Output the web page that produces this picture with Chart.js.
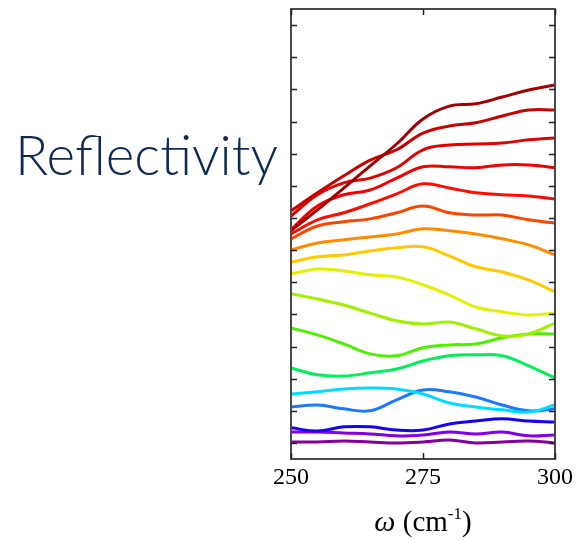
<!DOCTYPE html>
<html lang="en">
  <head>
    <meta charset="UTF-8" />
    <title>Reflectivity</title>
    <script src="https://cdn.jsdelivr.net/npm/chart.js"></script>
    <style>
      body { margin: 0; background: #ffffff; }
    </style>
  </head>
  <body>
    <canvas id="reflectivityChart" width="576" height="540"></canvas>

    <script>
      // wavenumber samples (cm^-1)
      const wavenumbers = [250, 255, 260, 265, 270, 275, 280, 285, 290, 295, 300];
      const xTickLabels = [250, 275, 300];
      const yTickValues = [0, 1, 2, 3, 4, 5, 6, 7, 8, 9, 10, 11, 12, 13];

      // offset reflectivity curves, top (dark red) to bottom (purple)
      const darkRed = [6.60, 7.25, 7.93, 8.62, 9.30, 10.08, 10.48, 10.55, 10.76, 10.98, 11.14];
      const crimson = [7.22, 7.78, 8.31, 8.80, 9.12, 9.64, 9.86, 9.96, 10.17, 10.36, 10.36];
      const red1 = [7.06, 7.72, 8.09, 8.24, 8.56, 9.12, 9.27, 9.30, 9.33, 9.43, 9.49];
      const red2 = [6.63, 7.37, 7.72, 7.87, 8.24, 8.59, 8.59, 8.56, 8.65, 8.65, 8.56];
      const red3 = [6.50, 6.94, 7.16, 7.44, 7.75, 8.06, 7.93, 7.78, 7.72, 7.68, 7.59];
      const redOrange = [6.35, 6.75, 6.88, 6.97, 7.16, 7.37, 7.16, 7.09, 7.09, 6.94, 6.84];
      const orange = [6.00, 6.22, 6.32, 6.41, 6.50, 6.66, 6.60, 6.50, 6.35, 6.16, 5.85];
      const amber = [5.63, 5.79, 5.85, 5.97, 6.07, 6.10, 5.82, 5.48, 5.32, 5.07, 4.70];
      const yellow = [5.26, 5.41, 5.35, 5.23, 5.16, 4.92, 4.60, 4.23, 4.08, 3.98, 4.04];
      const yellowGreen = [4.64, 4.48, 4.29, 4.04, 3.80, 3.70, 3.76, 3.55, 3.33, 3.39, 3.73];
      const green = [3.58, 3.36, 3.08, 2.77, 2.71, 2.96, 3.05, 3.08, 3.27, 3.39, 3.39];
      const springGreen = [2.33, 2.12, 2.08, 2.18, 2.30, 2.55, 2.71, 2.74, 2.71, 2.40, 2.02];
      const cyan = [1.52, 1.59, 1.68, 1.71, 1.68, 1.52, 1.24, 1.12, 1.03, 0.96, 1.18];
      const azure = [1.12, 1.18, 1.06, 1.00, 1.34, 1.65, 1.59, 1.43, 1.18, 1.00, 1.06];
      const blue = [0.47, 0.37, 0.50, 0.50, 0.40, 0.40, 0.59, 0.68, 0.75, 0.68, 0.65];
      const violet = [0.34, 0.34, 0.31, 0.28, 0.22, 0.25, 0.34, 0.28, 0.34, 0.22, 0.25];
      const purple = [0.03, 0.03, 0.06, 0.03, 0.00, 0.03, 0.09, 0.00, 0.03, 0.06, 0.00];

      const curves = [darkRed, crimson, red1, red2, red3, redOrange, orange, amber, yellow,
        yellowGreen, green, springGreen, cyan, azure, blue, violet, purple];
      const colors = ["#a00000", "#c80000", "#e40000", "#f40000", "#ff0c00", "#ff4400",
        "#ff8c00", "#ffc800", "#e4f000", "#a0f000", "#4cf000", "#00f05a", "#00dcff",
        "#1c78ff", "#1400ff", "#8000e8", "#82009c"];

      // frame, inward ticks and text that sits outside the plot
      const decorations = {
        id: "decorations",
        afterDraw(chart) {
          const ctx = chart.ctx;
          const area = chart.chartArea;
          const xs = chart.scales.x;
          const ys = chart.scales.y;
          ctx.save();

          ctx.strokeStyle = "#4a4a4a";
          ctx.lineWidth = 2;
          ctx.strokeRect(area.left, area.top, area.right - area.left, area.bottom - area.top);

          ctx.strokeStyle = "#222222";
          ctx.lineWidth = 1.5;
          ctx.beginPath();
          yTickValues.forEach((v) => {
            const py = Math.round(ys.getPixelForValue(v)) + 0.5;
            ctx.moveTo(area.left, py);
            ctx.lineTo(area.left + 6, py);
            ctx.moveTo(area.right, py);
            ctx.lineTo(area.right - 6, py);
          });
          xTickLabels.forEach((v) => {
            const px = Math.round(xs.getPixelForValue(v)) + 0.5;
            ctx.moveTo(px, area.bottom);
            ctx.lineTo(px, area.bottom - 6);
            ctx.moveTo(px, area.top);
            ctx.lineTo(px, area.top + 6);
          });
          ctx.stroke();

          ctx.fillStyle = "#000000";
          ctx.font = '24px "Liberation Serif", serif';
          ctx.textAlign = "center";
          ctx.textBaseline = "alphabetic";
          xTickLabels.forEach((v) => {
            ctx.fillText(String(v), xs.getPixelForValue(v), 484);
          });

          // x axis title: omega (cm^-1)
          const parts = [
            { t: "\u03C9", f: 'italic 30px "Liberation Serif", serif', dy: 0 },
            { t: " (cm", f: '29px "Liberation Serif", serif', dy: 0 },
            { t: "-1", f: '17px "Liberation Serif", serif', dy: -12 },
            { t: ")", f: '29px "Liberation Serif", serif', dy: 0 },
          ];
          let total = 0;
          parts.forEach((p) => {
            ctx.font = p.f;
            p.w = ctx.measureText(p.t).width;
            total += p.w;
          });
          let cx = 423 - total / 2;
          ctx.textAlign = "left";
          parts.forEach((p) => {
            ctx.font = p.f;
            ctx.fillText(p.t, cx, 531 + p.dy);
            cx += p.w;
          });

          // big y label
          ctx.fillStyle = "#0f2a52";
          ctx.font = '300 55px Lato, "Open Sans", sans-serif';
          const w = ctx.measureText("Reflectivity").width;
          ctx.save();
          ctx.translate(15, 175);
          ctx.scale(263 / w, 1);
          ctx.fillText("Reflectivity", 0, 0);
          ctx.restore();

          ctx.restore();
        },
      };

      const ctx = document.getElementById("reflectivityChart").getContext("2d");
      const reflectivityChart = new Chart(ctx, {
        type: "line",
        data: {
          labels: wavenumbers,
          datasets: curves.map((values, i) => ({
            data: values.map((v, j) => ({ x: wavenumbers[j], y: v })),
            borderColor: colors[i],
            borderWidth: 3,
            pointRadius: 0,
            tension: 0.4,
            fill: false,
          })),
        },
        options: {
          responsive: false,
          animation: false,
          layout: { padding: { left: 291, right: 21, top: 9, bottom: 81 } },
          plugins: { legend: { display: false }, tooltip: { enabled: false } },
          scales: {
            x: { type: "linear", min: 250, max: 300, display: false },
            y: { min: -0.5, max: 13.5, display: false },
          },
        },
        plugins: [decorations],
      });
    </script>
  </body>
</html>
